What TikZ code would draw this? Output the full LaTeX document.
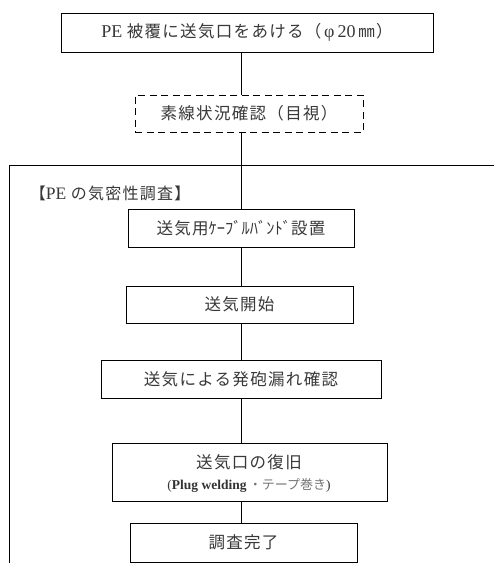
\documentclass[tikz,border=0pt]{standalone}
\usepackage{fontspec}
\setmainfont{Liberation Serif}
\newfontfamily\cjk[LetterSpace=8]{Noto Sans CJK JP}
\newfontfamily\cjkn{Noto Sans CJK JP}
\begin{document}
\begin{tikzpicture}[x=1pt,y=-1pt,
  every node/.style={inner sep=0pt,outer sep=0pt},
  stepbox/.style={draw=black,line width=0.9pt,minimum height=38pt,align=center,text=black!78,font=\cjk\fontsize{16.5}{18}\selectfont},
  dashbox/.style={stepbox,dash pattern=on 7pt off 4.5pt},
  conn/.style={draw=black,line width=0.9pt},
  frame/.style={draw=black,line width=0.9pt}]
\useasboundingbox (0,0) rectangle (494,563);
\coordinate (spine) at (241.5,0);
\node[stepbox,minimum width=372pt,minimum height=39pt] (b1) at (247,32.5)
  {{\rmfamily\fontsize{18}{18}\selectfont PE }被覆に送気口をあける（\,{\rmfamily\fontsize{18}{18}\selectfont φ\,20}\,㎜）};
\node[dashbox,minimum width=228pt,minimum height=37pt] (b0) at (249,113.5) {素線状況確認（目視）};
\draw[frame] (9,563) coordinate (fl) -- (9,165) coordinate (ftl) -- (494,165) coordinate (fr);
\node[anchor=west,text=black!78,font=\cjk\fontsize{16}{18}\selectfont] (lab) at (30,193)
  {【{\rmfamily\fontsize{17.5}{18}\selectfont PE }の気密性調査】};
\node[stepbox,minimum width=226pt] (b2) at (241,228) {送気用{\cjkn ｹｰﾌﾞﾙﾊﾞﾝﾄﾞ}設置};
\node[stepbox,minimum width=227pt,minimum height=37pt] (b3) at (239.5,304.5) {送気開始};
\node[stepbox,minimum width=280pt] (b4) at (241,379) {送気による発砲漏れ確認};
\node[stepbox,minimum width=275pt,minimum height=58pt] (b5) at (249.5,472) {};
\node[text=black!78,font=\cjk\fontsize{16.5}{18}\selectfont] (b5a) at (249,462) {送気口の復旧};
\node[font=\fontsize{13.5}{14}\selectfont] (b5b) at (249,486)
  {\textcolor{black!80}{(\textbf{Plug welding}}\,\textcolor{black!55}{\cjkn\fontsize{13}{14}\selectfont ・テープ巻き}\textcolor{black!80}{)}};
\node[stepbox,minimum width=227pt,minimum height=39pt] (b6) at (243.5,542.5) {調査完了};
\draw[conn] (b1.south -| spine) -- (b0.north -| spine);
\draw[conn] (b0.south -| spine) -- (b2.north -| spine);
\draw[conn] (b2.south -| spine) -- (b3.north -| spine);
\draw[conn] (b3.south -| spine) -- (b4.north -| spine);
\draw[conn] (b4.south -| spine) -- (b5.north -| spine);
\draw[conn] (b5.south -| spine) -- (b6.north -| spine);
\end{tikzpicture}
\end{document}
